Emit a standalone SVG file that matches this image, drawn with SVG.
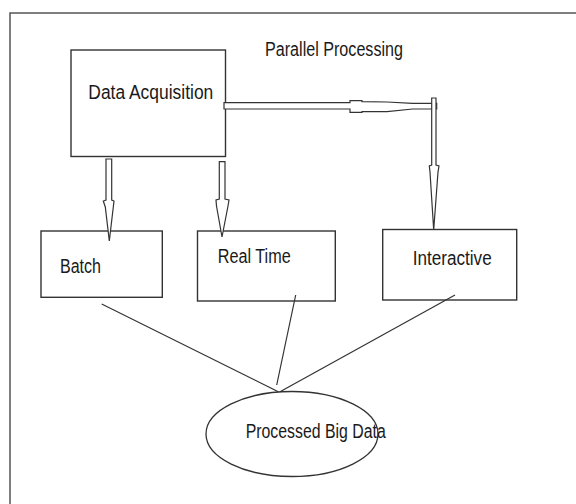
<svg xmlns="http://www.w3.org/2000/svg" width="576" height="504" viewBox="0 0 576 504">
  <style>
    .frame { fill: none; stroke: #555; stroke-width: 1.5; }
    .box { fill: #fff; stroke: #333; stroke-width: 1.4; }
    .oval { fill: none; stroke: #333; stroke-width: 1.3; }
    .label { font-family: "Liberation Sans Narrow", "Liberation Sans", Arial, sans-serif; font-size: 19.5px; fill: #1a1a1a; }
    .arrow { fill: #fff; stroke: #333; stroke-width: 1.2; stroke-linejoin: miter; }
    .link { fill: none; stroke: #333; stroke-width: 1.2; }
  </style>

  <rect width="576" height="504" fill="#fff"/>

  <!-- page frame: top and left edges only -->
  <path class="frame" d="M10,504 L10,13 L576,13"/>

  <g id="title">
    <text class="label" x="265" y="56" textLength="138" lengthAdjust="spacingAndGlyphs">Parallel Processing</text>
  </g>

  <g id="data-acquisition">
    <rect class="box" x="71" y="50" width="154.5" height="106.5"/>
    <text class="label" x="88.3" y="98.7" textLength="125" lengthAdjust="spacingAndGlyphs">Data Acquisition</text>
  </g>

  <g id="batch">
    <rect class="box" x="41" y="231" width="121.3" height="66.3"/>
    <text class="label" x="60" y="272.7" textLength="41" lengthAdjust="spacingAndGlyphs">Batch</text>
  </g>

  <g id="real-time">
    <rect class="box" x="197.5" y="231" width="137.8" height="70"/>
    <text class="label" x="217.7" y="262.7" textLength="73" lengthAdjust="spacingAndGlyphs">Real Time</text>
  </g>

  <g id="interactive">
    <rect class="box" x="382.7" y="229.5" width="134" height="70.5"/>
    <text class="label" x="412.7" y="265" textLength="79" lengthAdjust="spacingAndGlyphs">Interactive</text>
  </g>

  <g id="processed-big-data">
    <ellipse class="oval" cx="292" cy="434" rx="86" ry="42.5"/>
    <text class="label" x="245.7" y="438.3" textLength="140" lengthAdjust="spacingAndGlyphs">Processed Big Data</text>
  </g>

  <g id="connectors">
    <!-- block arrows out of Data Acquisition -->
    <polygon class="arrow" points="106,159 111.7,159 111.7,200 114,201 113.3,207 109.3,241 105.3,207 103.3,201 106,200"/>
    <polygon class="arrow" points="219.3,161.7 225,161.7 225,199 229,200 228,206 222,237 216.5,206 216,200 219.3,199"/>
    <!-- long bent arrow to Interactive -->
    <polygon class="arrow" points="224,102.7 350,102.7 350,100.7 362,100.7 362,101.7 387,102 412.7,103.3 436.7,103.3 436.7,109 412.7,109 387,111.7 362,111.7 362,112.3 350,112.3 350,109 224,109"/>
    <polygon class="arrow" points="431.7,98 436,98 436,165 439,166 438,172 433.7,230 430,172 429.3,166 431.7,165"/>
    <!-- lines into Processed Big Data -->
    <line class="link" x1="101.7" y1="304" x2="278.3" y2="391.7"/>
    <line class="link" x1="295.7" y1="295" x2="276.7" y2="385"/>
    <line class="link" x1="455" y1="295" x2="280" y2="391.7"/>
  </g>
</svg>
